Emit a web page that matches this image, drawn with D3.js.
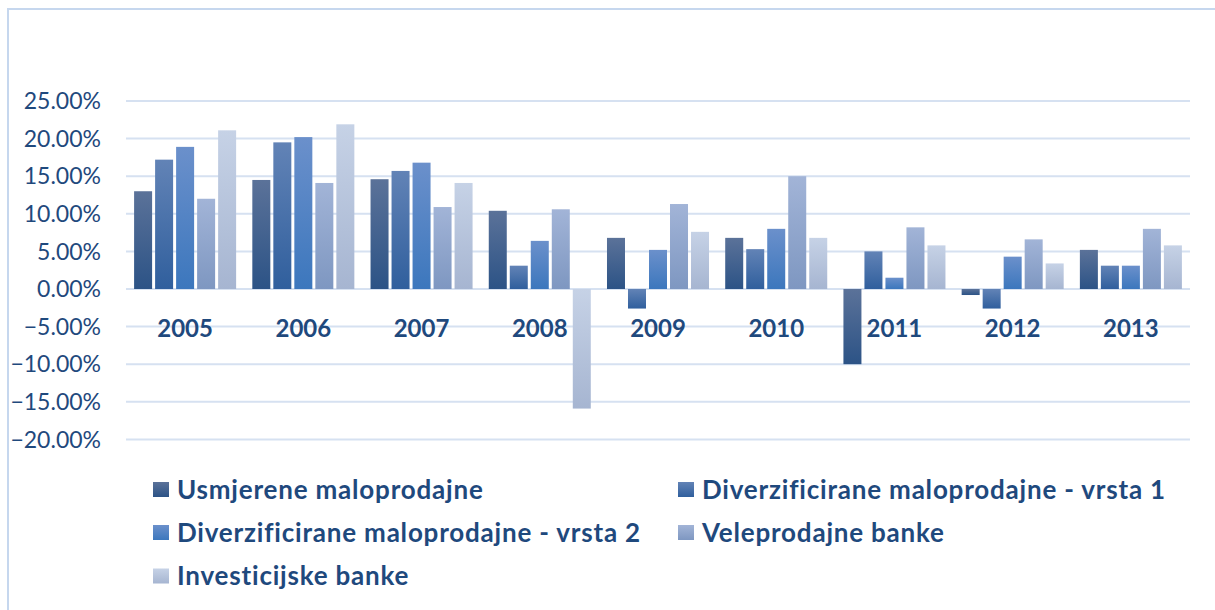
<!DOCTYPE html>
<html>
<head>
<meta charset="utf-8">
<script src="https://cdn.jsdelivr.net/npm/d3@7"></script>
<style>
  body { margin: 0; background: #fff; }
  svg { display: block; }
</style>
</head>
<body>
<svg id="chart"></svg>
<script>
const years = ["2005", "2006", "2007", "2008", "2009", "2010", "2011", "2012", "2013"];
const seriesNames = [
    "Usmjerene maloprodajne",
    "Diverzificirane maloprodajne - vrsta 1",
    "Diverzificirane maloprodajne - vrsta 2",
    "Veleprodajne banke",
    "Investicijske banke"
];
// values in %, one array per series, in year order
const usmjerene   = [13.0, 14.5, 14.6, 10.4,  6.8,  6.8, -10.0, -0.8, 5.2];
const divVrsta1   = [17.2, 19.5, 15.7,  3.1, -2.6,  5.3,   5.0, -2.6, 3.1];
const divVrsta2   = [18.9, 20.2, 16.8,  6.4,  5.2,  8.0,   1.5,  4.3, 3.1];
const veleprodaja = [12.0, 14.1, 10.9, 10.6, 11.3, 15.0,   8.2,  6.6, 8.0];
const investicije = [21.1, 21.9, 14.1, -15.9, 7.6,  6.8,   5.8,  3.4, 5.8];
const yTicks = [25, 20, 15, 10, 5, 0, -5, -10, -15, -20];

const allSeries = [usmjerene, divVrsta1, divVrsta2, veleprodaja, investicije];
const gradStops = [
    ["#5b7299", "#2c5386"],
    ["#6283b6", "#305f9d"],
    ["#6b90cb", "#3c77bd"],
    ["#a2b4d7", "#7e97c1"],
    ["#c6d2e6", "#a6b5d1"]
];
const textColor = "#1f497d";
const gridColor = "#d6e1f1";

const W = 1215, H = 610;
const svg = d3.select("#chart").attr("width", W).attr("height", H);

// gradients
const defs = svg.append("defs");
gradStops.forEach((s, i) => {
    const g = defs.append("linearGradient")
        .attr("id", "grad" + i)
        .attr("x1", 0).attr("y1", 0).attr("x2", 0).attr("y2", 1);
    g.append("stop").attr("offset", "0%").attr("stop-color", s[0]);
    g.append("stop").attr("offset", "100%").attr("stop-color", s[1]);
});

// chart area border
svg.append("path")
    .attr("d", `M8,${H + 5}V9H${W + 5}`)
    .attr("fill", "none")
    .attr("stroke", "#c6d7ee")
    .attr("stroke-width", 2);

const plotLeft = 126, plotRight = 1190;
const y = d3.scaleLinear().domain([-20, 25]).range([439.4, 101]);
const x0 = d3.scaleBand().domain(years).range([plotLeft, plotRight])
    .paddingInner(0.137).paddingOuter(0.0685);
const x1 = d3.scaleBand().domain(d3.range(5)).range([0, x0.bandwidth()])
    .paddingInner(0.143);

// gridlines
svg.append("g")
    .selectAll("line")
    .data(yTicks)
    .join("line")
    .attr("x1", plotLeft).attr("x2", plotRight)
    .attr("y1", d => y(d)).attr("y2", d => y(d))
    .attr("stroke", gridColor)
    .attr("stroke-width", 2);

// y tick labels
svg.append("g")
    .selectAll("text")
    .data(yTicks)
    .join("text")
    .attr("x", 101)
    .attr("y", d => y(d))
    .attr("dy", "0.36em")
    .attr("text-anchor", "end")
    .style("font-family", "Lato, 'Open Sans', sans-serif")
    .style("font-size", "23px")
    .attr("fill", textColor)
    .text(d => d3.format(".2f")(d) + "%");

// bars
const groups = svg.append("g")
    .selectAll("g")
    .data(years)
    .join("g")
    .attr("transform", d => `translate(${x0(d)},0)`);

groups.selectAll("rect")
    .data((yr, yi) => allSeries.map((s, si) => ({ si, v: s[yi] })))
    .join("rect")
    .attr("x", d => x1(d.si))
    .attr("width", x1.bandwidth())
    .attr("y", d => y(Math.max(0, d.v)))
    .attr("height", d => Math.abs(y(d.v) - y(0)))
    .attr("fill", d => `url(#grad${d.si})`);

// category labels (sit inside the plot, under the zero line)
svg.append("g")
    .selectAll("text")
    .data(years)
    .join("text")
    .attr("x", d => x0(d) + x0.bandwidth() / 2)
    .attr("y", 337)
    .attr("text-anchor", "middle")
    .style("font-family", "Lato, 'Open Sans', sans-serif")
    .style("font-size", "24px")
    .style("font-weight", "bold")
    .attr("fill", textColor)
    .text(d => d);

// legend
const legendPos = [
    [153, 489.5], [678, 489.5],
    [153, 532.5], [678, 532.5],
    [153, 576]
];
const legend = svg.append("g")
    .selectAll("g")
    .data(seriesNames)
    .join("g")
    .attr("transform", (d, i) => `translate(${legendPos[i][0]},${legendPos[i][1]})`);

legend.append("rect")
    .attr("x", 0).attr("y", -7.5)
    .attr("width", 16).attr("height", 15)
    .attr("fill", (d, i) => `url(#grad${i})`);

legend.append("text")
    .attr("x", 24)
    .attr("dy", "0.36em")
    .style("font-family", "Lato, 'Open Sans', sans-serif")
    .style("font-size", "26px")
    .style("font-weight", "bold")
    .style("letter-spacing", "0.8px")
    .attr("fill", textColor)
    .text(d => d);
</script>
</body>
</html>
